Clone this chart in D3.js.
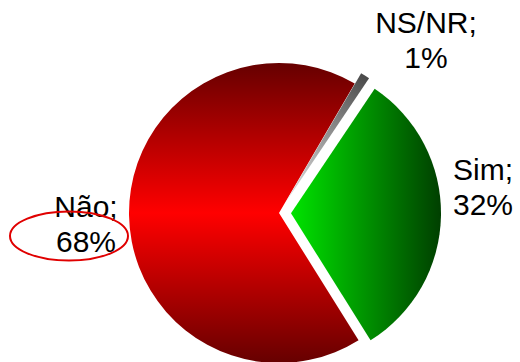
<!DOCTYPE html>
<html>
<head>
<meta charset="utf-8">
<script src="https://cdn.jsdelivr.net/npm/d3@7"></script>
<style>
html,body{margin:0;padding:0;background:#fff;}
svg{display:block;}
</style>
</head>
<body>
<svg id="chart" width="520" height="362"></svg>
<script>
const categories = ["Sim", "Não", "NS/NR"];
const values = [32, 68, 1];
const labels = ["Sim;\n32%", "Não;\n68%", "NS/NR;\n1%"];
const explode = [12, 0, 12];
const labelPos = [[483, 180], [86, 217], [426, 33]];

const W = 520, H = 362;
const cx = 279, cy = 213, R = 150;
const startDeg = 33.9;

const svg = d3.select("#chart");
const defs = svg.append("defs");

const pie = d3.pie().sort(null).value(d => d)
  .startAngle(startDeg * Math.PI / 180)
  .endAngle(startDeg * Math.PI / 180 + 2 * Math.PI);
const arcs = pie(values);
const arc = d3.arc().innerRadius(0).outerRadius(R);

// gradients (userSpaceOnUse coordinates are relative to the pie centre)
const gRed = defs.append("linearGradient").attr("id", "gRed")
  .attr("gradientUnits", "userSpaceOnUse")
  .attr("x1", 0).attr("y1", -R).attr("x2", 0).attr("y2", R);
[[0, "#660000"], [0.5, "#ff0000"], [1, "#660000"]].forEach(s =>
  gRed.append("stop").attr("offset", s[0]).attr("stop-color", s[1]));

const gGreen = defs.append("linearGradient").attr("id", "gGreen")
  .attr("x1", 0).attr("y1", 0).attr("x2", 1).attr("y2", 0);
[[0, "#00e400"], [1, "#003f00"]].forEach(s =>
  gGreen.append("stop").attr("offset", s[0]).attr("stop-color", s[1]));

const gGray = defs.append("linearGradient").attr("id", "gGray")
  .attr("gradientUnits", "userSpaceOnUse");
[[0, "#e6e6e6"], [1, "#4a4a4a"]].forEach(s =>
  gGray.append("stop").attr("offset", s[0]).attr("stop-color", s[1]));

const fills = ["url(#gGreen)", "url(#gRed)", "url(#gGray)"];

const g = svg.append("g").attr("transform", `translate(${cx},${cy})`);

arcs.forEach((a, i) => {
  const mid = (a.startAngle + a.endAngle) / 2;
  const dx = Math.sin(mid) * explode[i], dy = -Math.cos(mid) * explode[i];
  if (i === 2) {
    gGray.attr("x1", 0).attr("y1", 0)
      .attr("x2", Math.sin(mid) * R).attr("y2", -Math.cos(mid) * R);
  }
  g.append("path")
    .attr("d", arc(a))
    .attr("transform", `translate(${dx},${dy})`)
    .attr("fill", fills[i]);
});

// labels
const lab = svg.append("g")
  .attr("font-family", "'Liberation Sans', Arial, sans-serif")
  .attr("font-size", 30)
  .attr("fill", "#000")
  .attr("text-anchor", "middle");
labels.forEach((t, i) => {
  const lines = t.split("\n");
  const txt = lab.append("text").attr("x", labelPos[i][0]).attr("y", labelPos[i][1]);
  lines.forEach((l, j) => {
    txt.append("tspan").attr("x", labelPos[i][0]).attr("dy", j === 0 ? 0 : 35).text(l);
  });
});

// highlight ellipse around Não
svg.append("ellipse")
  .attr("cx", 69).attr("cy", 236).attr("rx", 59).attr("ry", 24.5)
  .attr("fill", "none").attr("stroke", "#e00000").attr("stroke-width", 2);
</script>
</body>
</html>
